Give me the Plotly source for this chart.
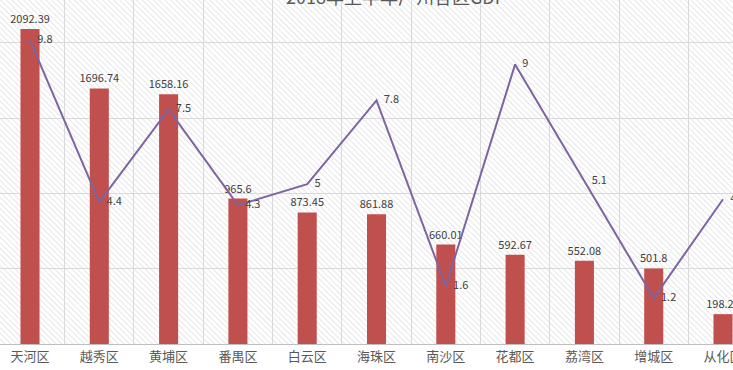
import base64
import plotly.graph_objects as go

districts = ["天河区", "越秀区", "黄埔区", "番禺区", "白云区", "海珠区", "南沙区", "花都区", "荔湾区", "增城区", "从化区"]
gdp = [2092.39, 1696.74, 1658.16, 965.6, 873.45, 861.88, 660.01, 592.67, 552.08, 501.8, 198.25]
gdp_labels = ["2092.39", "1696.74", "1658.16", "965.6", "873.45", "861.88", "660.01", "592.67", "552.08", "501.8", "198.25"]
growth = [9.8, 4.4, 7.5, 4.3, 5, 7.8, 1.6, 9, 5.1, 1.2, 4.5]
growth_labels = ["9.8", "4.4", "7.5", "4.3", "5", "7.8", "1.6", "9", "5.1", "1.2", "4.5"]
title_text = "2018年上半年广州各区GDP"

W, H = 733, 370
PLOT_H = 344

svg = (
    f'<svg xmlns="http://www.w3.org/2000/svg" width="{W}" height="{PLOT_H}">'
    '<defs><pattern id="p" width="4" height="4" patternUnits="userSpaceOnUse" patternTransform="rotate(-45)">'
    '<line x1="0" y1="0" x2="0" y2="4" stroke="#d6d6d6" stroke-width="1.2"/></pattern></defs>'
    '<rect width="100%" height="100%" fill="white"/>'
    '<rect width="100%" height="100%" fill="url(#p)"/></svg>'
)
hatch = "data:image/svg+xml;base64," + base64.b64encode(svg.encode()).decode()

font_cjk = "Noto Sans CJK SC, Microsoft YaHei, sans-serif"

fig = go.Figure()
fig.add_trace(go.Bar(
    x=districts, y=gdp, text=gdp_labels, textposition="outside",
    constraintext="none",
    textfont=dict(size=11, color="#404040", family=font_cjk),
    marker=dict(color="#C0504D", line=dict(width=0)),
    cliponaxis=False, showlegend=False,
))
fig.add_trace(go.Scatter(
    x=districts, y=growth, yaxis="y2", mode="lines+markers+text",
    text=growth_labels, textposition="middle right",
    textfont=dict(size=11, color="#404040", family=font_cjk),
    line=dict(color="#7E64A0", width=2),
    marker=dict(size=10, opacity=0),
    cliponaxis=False, showlegend=False,
))

fig.update_layout(
    width=W, height=H, autosize=False,
    margin=dict(l=0, r=0, t=0, b=H - PLOT_H, pad=0, autoexpand=False),
    paper_bgcolor="white",
    plot_bgcolor="rgba(0,0,0,0)",
    bargap=0.725,
    font=dict(family=font_cjk, color="#595959"),
    xaxis=dict(
        type="category", range=[-0.433, 10.144], automargin=False,
        tickson="boundaries", showgrid=True, gridcolor="#d9d9d9", gridwidth=1,
        showline=True, linecolor="#bfbfbf", linewidth=1,
        ticks="", tickfont=dict(size=13, color="#595959", family=font_cjk),
    ),
    yaxis=dict(
        range=[0, PLOT_H / 0.1506], dtick=500, showgrid=True, automargin=False,
        gridcolor="#d9d9d9", gridwidth=1, showticklabels=False,
        zeroline=False, ticks="",
    ),
    yaxis2=dict(
        overlaying="y", side="right", range=[-0.334, 11.15], automargin=False,
        showgrid=False, showticklabels=False, zeroline=False, ticks="",
    ),
    images=[dict(
        source=hatch, xref="paper", yref="paper", x=0, y=1,
        sizex=1, sizey=1, xanchor="left", yanchor="top",
        sizing="stretch", layer="below",
    )],
    annotations=[dict(
        text=title_text, xref="paper", yref="paper", x=396 / W, y=1.012,
        xanchor="center", yanchor="middle", showarrow=False,
        font=dict(size=18, color="#595959", family=font_cjk),
    )],
)

fig.write_html(
    "out.html",
    config={"displayModeBar": False, "responsive": False},
    post_script="document.body.style.margin='0';document.body.style.overflow='hidden';",
)
